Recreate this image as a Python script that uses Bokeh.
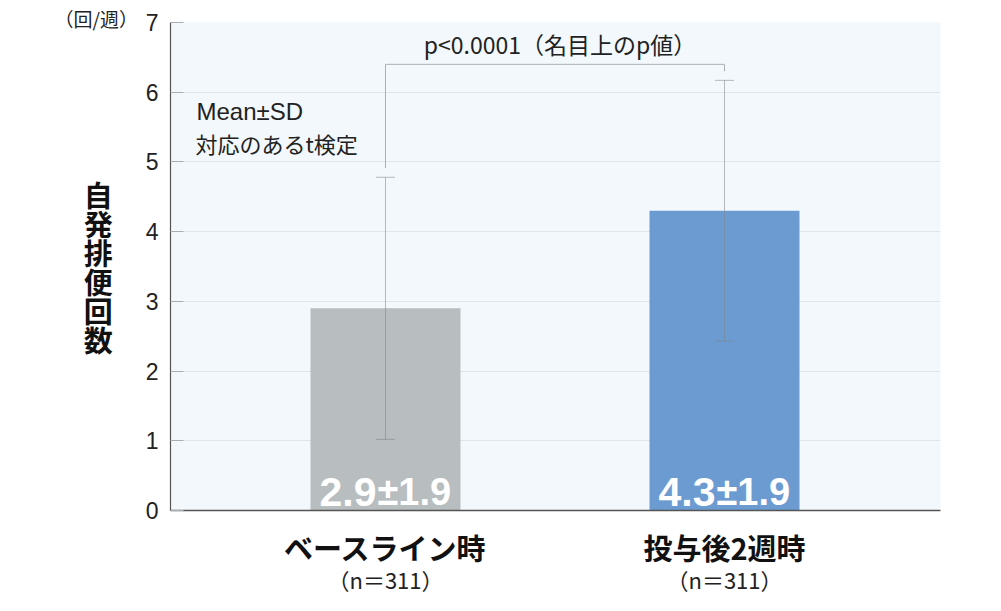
from bokeh.plotting import figure
from bokeh.models import (Range1d, FixedTicker, LinearAxis, Label, Whisker,
                          TeeHead, ColumnDataSource, Title)
from bokeh.core.properties import value
from bokeh.embed import file_html
from bokeh.resources import INLINE

# ---------------- data ----------------
categories = ["ベースライン時", "投与後2週時"]
n_labels = ["（n＝311）", "（n＝311）"]
means = [2.9, 4.3]
sds = [1.88, 1.87]
bar_colors = ["#b8bdc0", "#6b9bd1"]
y_ticks = [0, 1, 2, 3, 4, 5, 6, 7]
y_title = "自発排便回数"
unit_text = "（回/週）"
note_lines = ["Mean±SD", "対応のあるt検定"]
p_text = "p<0.0001（名目上のp値）"

# ---------------- layout helpers ----------------
FRAME_W, FRAME_H = 770, 488
PX_PER_UNIT = 339.0
X0 = 1 - 215.0 / PX_PER_UNIT
X1 = X0 + FRAME_W / PX_PER_UNIT
BAR_W = 150.0 / PX_PER_UNIT
FRAME_LEFT_IMG = 170.0
FRAME_BOTTOM_IMG = 510.0


def fx(px):
    return X0 + (px - FRAME_LEFT_IMG) / PX_PER_UNIT


def fy(py):
    return (FRAME_BOTTOM_IMG - py) / (FRAME_H / 7.0)


positions = [i + 1 for i in range(len(categories))]
src = ColumnDataSource(dict(
    x=positions,
    top=means,
    color=bar_colors,
    upper=[m + s for m, s in zip(means, sds)],
    lower=[m - s for m, s in zip(means, sds)],
    mtxt=[f"{m:.1f}" for m in means],
    stxt=[f"±{s:.1f}" for s in sds],
))

p = figure(frame_width=FRAME_W, frame_height=FRAME_H,
           x_range=Range1d(X0, X1), y_range=Range1d(0, 7),
           output_backend="svg", toolbar_location=None,
           x_axis_location=None,
           min_border_left=170, min_border_right=61,
           min_border_top=22, min_border_bottom=101,
           background_fill_color="#f2f8fc", border_fill_color="white",
           outline_line_color=None)

# unit label as a title, pulled left of the frame and down to the 7 tick
p.add_layout(Title(text=unit_text, align="left", offset=-116, standoff=-18,
                   text_font="Noto Sans CJK JP", text_font_size="19px",
                   text_font_style="normal", text_color="#222222"), "above")

# y axis
yax = p.yaxis[0]
yax.ticker = FixedTicker(ticks=y_ticks)
yax.major_tick_in = 13
yax.major_tick_out = 0
yax.minor_tick_line_color = None
yax.axis_line_color = "#555555"
yax.axis_line_width = 1.2
yax.major_tick_line_color = "#a9aeb3"
yax.major_label_text_font = "Liberation Sans"
yax.major_label_text_font_size = "23px"
yax.major_label_text_color = "#222222"
yax.major_label_standoff = 12

# vertical stacked y title
yax.axis_label_orientation = "horizontal"
yax.axis_label = "\n".join(y_title)
yax.axis_label_text_font = "Noto Sans CJK JP"
yax.axis_label_text_font_size = "29px"
yax.axis_label_text_font_style = "bold"
yax.axis_label_text_color = "#111111"
yax.axis_label_text_line_height = 0.69
yax.axis_label_standoff = 30

p.ygrid.ticker = FixedTicker(ticks=y_ticks)
p.ygrid.grid_line_color = "#dfe5ea"
p.xgrid.grid_line_color = None

# bars
p.vbar(x="x", top="top", bottom=0, width=BAR_W, color="color",
       line_color=None, source=src)

# error bars
err_color = "#7d8489"
p.add_layout(Whisker(base="x", upper="upper", lower="lower", source=src,
                     line_color=err_color, line_alpha=0.55, line_width=1,
                     level="overlay",
                     upper_head=TeeHead(size=19, line_color=err_color,
                                        line_alpha=0.55, line_width=1),
                     lower_head=TeeHead(size=19, line_color=err_color,
                                        line_alpha=0.55, line_width=1)))

# significance bracket
bracket_level = 6.4
gap = 0.13
p.line(x=[positions[0], positions[0], positions[1], positions[1]],
       y=[means[0] + sds[0] + gap, bracket_level, bracket_level,
          means[1] + sds[1] + gap],
       line_color="#aab0b6", line_width=1)
p.add_layout(Label(x=(positions[0] + positions[1]) / 2, y=bracket_level,
                   y_offset=20, x_offset=5, text=p_text,
                   text_font="Noto Sans CJK JP", text_font_size="23px",
                   text_color="#222222", text_align="center",
                   text_baseline="middle"))

# value labels in bars
p.text(x="x", y=0, text="mtxt", source=src, x_offset=-9, y_offset=-19,
       text_font=value("Liberation Sans"), text_font_size="41px",
       text_font_style="bold", text_color="white", text_align="right",
       text_baseline="alphabetic")
p.text(x="x", y=0, text="stxt", source=src, x_offset=-8, y_offset=-19,
       text_font=value("Liberation Sans"), text_font_size="38px",
       text_font_style="bold", text_color="white", text_align="left",
       text_baseline="alphabetic")

# notes
p.add_layout(Label(x=fx(196), y=fy(111), text=note_lines[0],
                   text_font="Liberation Sans", text_font_size="24px",
                   text_color="#222222", text_align="left",
                   text_baseline="middle"))
p.add_layout(Label(x=fx(195), y=fy(142), text=note_lines[1],
                   text_font="Noto Sans CJK JP", text_font_size="22px",
                   text_color="#222222", text_align="left",
                   text_baseline="middle"))

# x axes (category names, then n)
ax1 = LinearAxis(ticker=FixedTicker(ticks=positions),
                 major_label_overrides={pos: c for pos, c in zip(positions, categories)})
ax1.axis_line_color = "#555555"
ax1.axis_line_width = 1.5
ax1.major_tick_line_color = None
ax1.minor_tick_line_color = None
ax1.major_label_text_font = "Noto Sans CJK JP"
ax1.major_label_text_font_size = "29px"
ax1.major_label_text_font_style = "bold"
ax1.major_label_text_color = "#111111"
ax1.major_label_standoff = 9

ax2 = LinearAxis(ticker=FixedTicker(ticks=positions),
                 major_label_overrides={pos: n for pos, n in zip(positions, n_labels)})
ax2.axis_line_color = None
ax2.major_tick_line_color = None
ax2.minor_tick_line_color = None
ax2.major_label_text_font = "Noto Sans CJK JP"
ax2.major_label_text_font_size = "22px"
ax2.major_label_text_color = "#222222"
ax2.major_label_standoff = -14

p.add_layout(ax1, "below")
p.add_layout(ax2, "below")

open("out.html", "w").write(file_html(p, INLINE))
